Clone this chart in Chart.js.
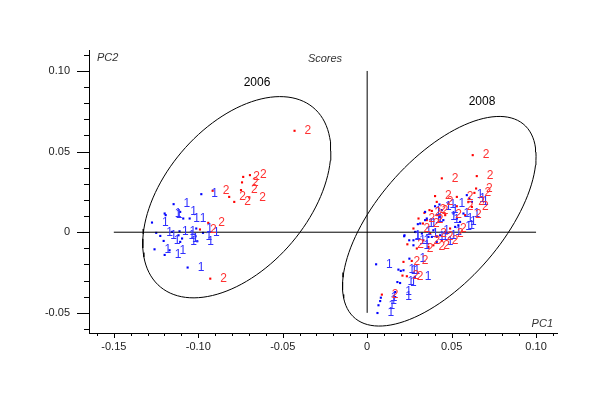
<!DOCTYPE html>
<html>
<head>
<meta charset="utf-8">
<script src="https://cdn.jsdelivr.net/npm/chart.js@4"></script>
<style>body{margin:0;background:#fff}</style>
</head>
<body>
<canvas id="myChart" width="600" height="409"></canvas>
<script>
const xTicks = [-0.15, -0.10, -0.05, 0, 0.05, 0.10];
const yTicks = [-0.05, 0, 0.05, 0.10];

// scores, sample group "1" (blue)
const pc1Group1 = [
  -0.0982, -0.1146, -0.1199, -0.1193, -0.1107, -0.1051, -0.1274, -0.1249, -0.1225, -0.1205,
  -0.1259, -0.1199, -0.1170, -0.1111, -0.1117, -0.1096, -0.1063, -0.1012, -0.0972, -0.1156,
  -0.1016, -0.1107, -0.1089, -0.1006,
  0.0402, 0.0428, 0.0343, 0.0353, 0.0442, 0.0432, 0.0451, 0.0314, 0.0284, 0.0221,
  0.0274, 0.0324, 0.0363, 0.0392, 0.0511, 0.0531, 0.0550, 0.0570, 0.0590, 0.0605,
  0.0620, 0.0540, 0.0521, 0.0462, 0.0432, 0.0412, 0.0383, 0.0219, 0.0274, 0.0249,
  0.0300, 0.0053, 0.0250, 0.0185, 0.0199, 0.0215, 0.0179, 0.0195, 0.0166, 0.0166,
  0.0081, 0.0077, 0.0061, 0.0067, 0.0282, 0.0481, 0.0343
];
const pc2Group1 = [
  0.0236, 0.0174, 0.0116, 0.0106, 0.0126, 0.0085, 0.0060, -0.0004, -0.0023, -0.0054,
  -0.0106, -0.0141, -0.0112, 0.0006, -0.0019, -0.0039, -0.0219, 0.0023, -0.0004, 0.0002,
  -0.0025, -0.0060, 0.0085, -0.0056,
  0.0161, 0.0172, 0.0126, 0.0085, 0.0137, 0.0095, 0.0075, 0.0054, 0.0002, -0.0019,
  -0.0050, -0.0008, -0.0029, 0.0012, 0.0116, 0.0085, 0.0064, 0.0116, 0.0230, 0.0209,
  0.0188, 0.0043, 0.0033, 0.0002, -0.0019, -0.0060, -0.0029, -0.0025, -0.0081, -0.0050,
  0.0050, -0.0199, -0.0164, -0.0232, -0.0240, -0.0236, -0.0309, -0.0315, -0.0371, -0.0402,
  -0.0406, -0.0427, -0.0501, -0.0453, -0.0277, 0.0178, 0.0075
];

// scores, sample group "2" (red)
const pc1Group2 = [
  -0.0430, -0.0734, -0.0694, -0.0741, -0.0915, -0.0817, -0.0787, -0.0747, -0.0698, -0.0941,
  -0.0990, -0.0929,
  0.0625, 0.0442, 0.0649, 0.0645, 0.0635, 0.0402, 0.0412, 0.0531, 0.0383, 0.0304,
  0.0330, 0.0274, 0.0238, 0.0294, 0.0353, 0.0462, 0.0531, 0.0599, 0.0620, 0.0580,
  0.0491, 0.0472, 0.0412, 0.0373, 0.0442, 0.0392, 0.0333, 0.0363, 0.0215, 0.0264,
  0.0209, 0.0235, 0.0087, 0.0339, 0.0369
];
const pc2Group2 = [
  0.0629, 0.0343, 0.0354, 0.0309, 0.0257, 0.0219, 0.0188, 0.0261, 0.0216, 0.0058,
  0.0017, -0.0288,
  0.0478, 0.0334, 0.0348, 0.0271, 0.0244, 0.0224, 0.0188, 0.0219, 0.0132, 0.0085,
  0.0054, 0.0023, -0.0075, -0.0101, 0.0075, 0.0106, 0.0161, 0.0188, 0.0157, 0.0106,
  0.0023, -0.0008, -0.0029, -0.0008, -0.0050, -0.0081, -0.0050, -0.0091, -0.0184, -0.0178,
  -0.0269, -0.0273, -0.0387, 0.0120, 0.0137
];

// ellipses: centre x, centre y, half width, half height, correlation
const ellipse2006 = [-0.0772, 0.0217, 0.0557, 0.0624, 0.46];
const ellipse2008 = [0.0427, 0.0068, 0.0573, 0.0650, 0.62];

function ellipsePoints(e) {
  const [cx, cy, w, h, r] = e;
  const s = Math.sqrt(1 - r * r);
  const pts = [];
  for (let i = 0; i <= 120; i++) {
    const t = i / 120 * Math.PI * 2;
    pts.push({ x: cx + w * Math.cos(t), y: cy + h * (r * Math.cos(t) + s * Math.sin(t)) });
  }
  return pts;
}

const toPoints = (xs, ys) => xs.map((x, i) => ({ x: x, y: ys[i] }));
const FONT = 'Liberation Sans, Arial, sans-serif';

const extras = {
  id: 'extras',
  afterDatasetsDraw(chart) {
    const c = chart.ctx;
    c.save();
    c.font = '12px ' + FONT;
    c.textBaseline = 'middle';
    c.textAlign = 'left';
    chart.data.datasets.forEach((ds, i) => {
      if (!ds.pointLabel) return;
      c.fillStyle = ds.labelColor;
      chart.getDatasetMeta(i).data.forEach(p => {
        c.fillText(ds.pointLabel, p.x + 10, p.y);
      });
    });
    c.restore();
  },
  afterDraw(chart) {
    const c = chart.ctx;
    const a = chart.chartArea;
    const xs = chart.scales.x, ys = chart.scales.y;
    c.save();
    c.strokeStyle = '#000';
    c.lineWidth = 1;
    c.beginPath();
    for (let k = Math.ceil(xs.min * 100); k <= Math.floor(xs.max * 100); k++) {
      const px = Math.round(xs.getPixelForValue(k / 100)) + 0.5;
      const len = k % 5 === 0 ? 5 : 3;
      c.moveTo(px, a.bottom);
      c.lineTo(px, a.bottom + len);
    }
    for (let k = Math.ceil(ys.min * 100); k <= Math.floor(ys.max * 100); k++) {
      const py = Math.round(ys.getPixelForValue(k / 100)) + 0.5;
      const len = k % 5 === 0 ? 12 : 5;
      c.moveTo(a.left, py);
      c.lineTo(a.left - len, py);
    }
    c.stroke();

    c.fillStyle = '#333';
    c.font = 'italic 11px ' + FONT;
    c.textBaseline = 'middle';
    c.textAlign = 'left';
    c.fillText('PC2', 97, 58);
    c.textAlign = 'center';
    c.fillText('Scores', 325, 59);
    c.textAlign = 'right';
    c.fillText('PC1', 553, 324);
    c.fillStyle = '#000';
    c.font = '12px ' + FONT;
    c.textAlign = 'center';
    c.fillText('2006', 257, 83);
    c.fillText('2008', 482, 102);
    c.restore();
  }
};

const lineStyle = { showLine: true, pointRadius: 0, borderColor: '#000', borderWidth: 1, fill: false };

new Chart(document.getElementById('myChart'), {
  type: 'scatter',
  data: {
    datasets: [
      Object.assign({ data: ellipsePoints(ellipse2006) }, lineStyle),
      Object.assign({ data: ellipsePoints(ellipse2008) }, lineStyle),
      Object.assign({ data: [{ x: -0.15, y: 0 }, { x: 0.10, y: 0 }] }, lineStyle),
      Object.assign({ data: [{ x: 0, y: -0.05 }, { x: 0, y: 0.10 }] }, lineStyle),
      {
        data: toPoints(pc1Group1, pc2Group1),
        pointStyle: 'rect', pointRadius: 1.5, borderWidth: 0,
        backgroundColor: '#0000ff', pointLabel: '1', labelColor: '#3030ff'
      },
      {
        data: toPoints(pc1Group2, pc2Group2),
        pointStyle: 'rect', pointRadius: 1.5, borderWidth: 0,
        backgroundColor: '#ff0000', pointLabel: '2', labelColor: '#ff3030'
      }
    ]
  },
  options: {
    responsive: false,
    animation: false,
    devicePixelRatio: 1,
    layout: { padding: { top: 50, right: 43, left: 0, bottom: 0 } },
    plugins: { legend: { display: false }, tooltip: { enabled: false } },
    scales: {
      x: {
        type: 'linear', min: -0.1647, max: 0.1124,
        grid: { display: false, drawTicks: false },
        border: { display: true, color: '#000', width: 1 },
        afterBuildTicks: s => { s.ticks = xTicks.map(v => ({ value: v })); },
        afterFit: s => { s.height = 76; },
        ticks: {
          color: '#222', font: { family: FONT, size: 11 }, padding: 7, maxRotation: 0, autoSkip: false,
          callback: v => v === 0 ? '0' : v.toFixed(2)
        }
      },
      y: {
        type: 'linear', min: -0.0625, max: 0.113,
        grid: { display: false, drawTicks: false },
        border: { display: true, color: '#000', width: 1 },
        afterBuildTicks: s => { s.ticks = yTicks.map(v => ({ value: v })); },
        afterFit: s => { s.width = 89; },
        ticks: {
          color: '#222', font: { family: FONT, size: 11 }, padding: 19, autoSkip: false,
          callback: v => v === 0 ? '0' : v.toFixed(2)
        }
      }
    }
  },
  plugins: [extras]
});
</script>
</body>
</html>
